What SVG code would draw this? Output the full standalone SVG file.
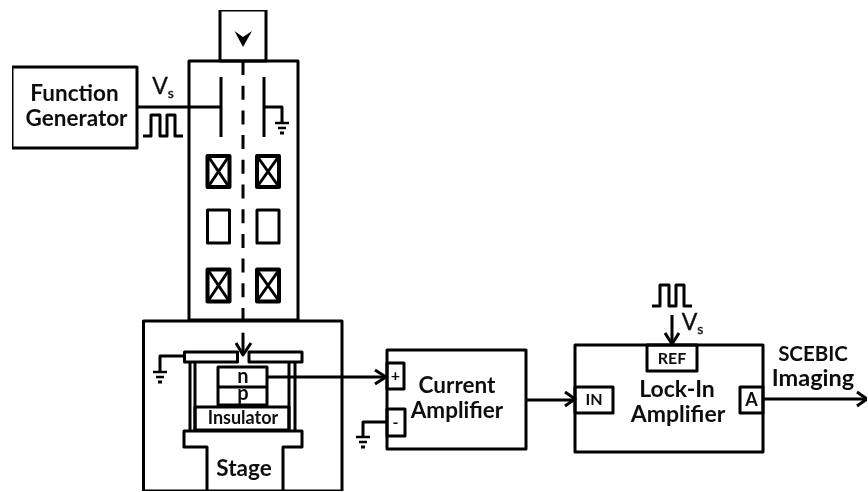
<svg xmlns="http://www.w3.org/2000/svg" width="868" height="492" viewBox="0 0 868 492">
<style>
.l{fill:none;stroke:#000;stroke-width:3;stroke-linejoin:round}
.t{stroke-width:4}
text{font-family:"Lato","Liberation Sans",sans-serif;font-weight:700;fill:#111;text-anchor:middle}
.b{font-size:22.500px}
.m{font-size:16px}
.v{font-size:23px;font-weight:400;stroke:#111;stroke-width:.4}
.s{font-size:14px}
</style>
<defs>
<filter id="soft" x="0" y="0" width="100%" height="100%"><feGaussianBlur stdDeviation="0.4"/></filter>
<g id="gnd" class="l"><path d="M-7 0H7M-4 5H4" stroke-width="2.500"/><path d="M-2 10H2" stroke-width="3"/></g>
<path id="pulse" class="l" d="M0 21H8V0H17V21H24V0H32V21H40" stroke-width="3"/>
</defs>
<rect width="868" height="492" fill="#fff"/>
<g filter="url(#soft)">
<g id="connectors">
<path class="l" d="M137 107H221"/>
<path class="l" d="M264 107H282V122"/>
<path class="l" d="M184 356H160V372"/>
<path class="l" d="M243 61V330" stroke-width="3.500" stroke-dasharray="14 10.700"/>
<path class="l" d="M243 332.700V354" stroke-width="3.500"/>
<path class="l" d="M236 343L243 355L251 343"/>
<path class="l" d="M267 377H385"/>
<path class="l" d="M375 370L386 377L375 384"/>
<path class="l" d="M387 422H363V437"/>
<path class="l" d="M526 400H573"/>
<path class="l" d="M565 392L575 399L565 406"/>
<path class="l" d="M672 315V344"/>
<path class="l" d="M665 333L672 344L679 333"/>
<path class="l" d="M763 399H866"/>
<path class="l" d="M857 392L867 399L857 406"/>
</g>
<g id="function-generator">
<rect class="l" x="12" y="67" width="125" height="81"/>
<text class="b" x="74.500" y="101">Function</text>
<text class="b" x="76.500" y="126">Generator</text>
</g>
<g id="vs-left">
<text class="v" x="163" y="94">V<tspan class="s" dy="4">s</tspan></text>
<use href="#pulse" x="143" y="115"/>
</g>
<g id="column">
<rect class="l" x="189" y="61" width="109" height="259"/>
<rect class="l" x="220" y="10" width="46" height="51"/>
<path d="M234.500 31L243 37L252 31L243 47Z"/>
<path class="l" d="M221 77V137M264 77V137"/>
<use href="#gnd" x="282" y="123"/>
<g class="l t">
<rect x="207.500" y="156" width="22" height="31"/><path d="M208 156L229 187M229 156L208 187" stroke-width="3"/>
<rect x="257" y="156" width="22" height="31"/><path d="M257 156L279 187M279 156L257 187" stroke-width="3"/>
<rect x="207.500" y="210" width="22" height="33" stroke-width="3"/>
<rect x="257" y="210" width="22" height="33" stroke-width="3"/>
<rect x="207.500" y="269.500" width="22" height="32"/><path d="M208 270L229 301M229 270L208 301" stroke-width="3"/>
<rect x="257" y="269.500" width="22" height="32"/><path d="M257 270L279 301M279 270L257 301" stroke-width="3"/>
</g>
</g>
<g id="stage-chamber">
<path class="l" d="M143.500 491V321H342V491"/>
<path class="l" d="M143 491H342" stroke-width="2"/>
<rect class="l" x="184.500" y="352" width="53" height="10"/>
<rect class="l" x="249" y="352" width="53" height="10"/>
<use href="#gnd" x="160" y="372"/>
<path class="l" d="M190 362V430M195 362V430M289 362V430M295 362V430"/>
<rect class="l" x="218" y="367" width="49" height="38"/>
<path class="l" d="M218 387H267"/>
<text class="b" x="243" y="383" style="font-size:20px">n</text>
<text class="b" x="243" y="400" style="font-size:20px">p</text>
<rect class="l" x="195" y="407" width="94" height="23"/>
<text class="m" x="243" y="424" style="font-size:18px">Insulator</text>
<path class="l" d="M207 491V447H184V431H302V447H283V491"/>
<text class="b" x="244" y="476">Stage</text>
</g>
<g id="current-amplifier">
<rect class="l" x="387" y="350" width="139" height="99"/>
<rect class="l" x="387" y="363" width="17" height="26"/>
<rect class="l" x="387" y="409" width="18" height="27"/>
<text class="m" x="395.500" y="381">+</text>
<text class="m" x="395.500" y="428">-</text>
<text class="b" x="457" y="393">Current</text>
<text class="b" x="457" y="418">Amplifier</text>
<use href="#gnd" x="363" y="437"/>
</g>
<g id="lock-in-amplifier">
<rect class="l" x="575" y="345" width="188" height="107"/>
<rect class="l" x="647" y="345" width="50" height="26"/>
<rect class="l" x="575" y="387" width="38" height="26"/>
<rect class="l" x="740" y="387" width="23" height="26"/>
<text class="m" x="672" y="364">REF</text>
<text class="m" x="594" y="405">IN</text>
<text class="m" x="751.500" y="406" style="font-size:18px">A</text>
<text class="b" x="677" y="397" style="font-size:23px">Lock-In</text>
<text class="b" x="678" y="422" style="font-size:23px">Amplifier</text>
</g>
<g id="vs-right">
<use href="#pulse" x="652" y="285"/>
<text class="v" x="692.500" y="330">V<tspan class="s" dy="4">s</tspan></text>
</g>
<g id="scebic">
<text class="b" x="813" y="361" style="font-size:20.500px">SCEBIC</text>
<text class="b" x="813" y="386" style="font-size:23.500px">Imaging</text>
</g>
</g>
</svg>
